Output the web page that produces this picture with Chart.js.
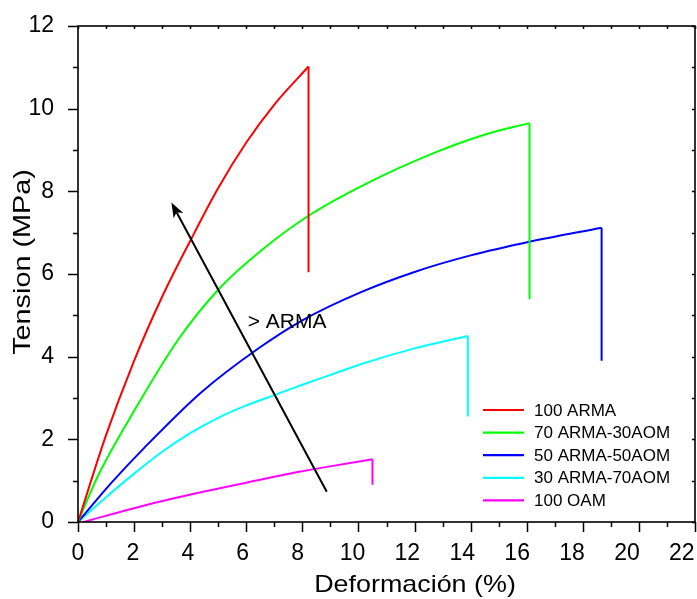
<!DOCTYPE html>
<html>
<head>
<meta charset="utf-8">
<script src="https://cdn.jsdelivr.net/npm/chart.js@4.4.0/dist/chart.umd.min.js"></script>
<style>
  html, body { margin: 0; padding: 0; background: #fff; }
  #chart { display: block; }
</style>
</head>
<body>
<canvas id="chart" width="697" height="599"></canvas>
<script>
// ===== DATA =====
const seriesNames = ['100 ARMA', '70 ARMA-30AOM', '50 ARMA-50AOM', '30 ARMA-70AOM', '100 OAM'];
const seriesColors = ['#ff0000', '#00ff00', '#0000ff', '#00ffff', '#ff00ff'];

// strain (%) / stress (MPa) up to rupture
const strainARMA100 = [0, 1, 2, 3, 4, 5, 6, 7, 8.22];
const stressARMA100 = [0, 2.10, 3.90, 5.45, 6.80, 8.08, 9.18, 10.10, 11.02];

const strainARMA70 = [0, 0.70, 2.02, 3.57, 5.0, 6.5, 8.22, 10.32, 12.7, 14.49, 16.1];
const stressARMA70 = [0, 1.10, 2.71, 4.41, 5.62, 6.55, 7.41, 8.2, 8.93, 9.37, 9.65];

const strainARMA50 = [0, 1.18, 2.37, 4.40, 6.39, 8.0, 10.05, 12.0, 14.0, 16.1, 18.67];
const stressARMA50 = [0, 0.94, 1.80, 3.14, 4.18, 4.88, 5.55, 6.05, 6.45, 6.78, 7.12];

const strainARMA30 = [0, 1, 2, 3, 4, 5, 6, 7, 8, 9, 10, 12, 13.9];
const stressARMA30 = [0, 0.60, 1.17, 1.70, 2.15, 2.52, 2.82, 3.07, 3.32, 3.56, 3.80, 4.20, 4.50];

const strainOAM = [0.2, 2.37, 4.46, 6.0, 7.93, 8.93, 10.5];
const stressOAM = [0, 0.40, 0.73, 0.95, 1.22, 1.34, 1.52];

// stress left after the break (vertical drop at the last strain)
const breakStress = [6.04, 5.39, 3.9, 2.55, 0.90];

const xTickLabels = [0, 2, 4, 6, 8, 10, 12, 14, 16, 18, 20, 22];
const xTickMarks = [0, 1, 2, 3, 4, 5, 6, 7, 8, 9, 10, 11, 12, 13, 14, 15, 16, 17, 18, 19, 20, 21, 22];
const yTickLabels = [0, 2, 4, 6, 8, 10, 12];
const yTickMarks = [0, 1, 2, 3, 4, 5, 6, 7, 8, 9, 10, 11, 12];

// arrow annotation (data coordinates)
const arrowFrom = [8.87, 0.73];
const arrowTo = [3.33, 7.73];
const noteText = '> ARMA';
const notePos = [6.05, 4.83];

const xTitle = 'Deformación (%)';
const yTitle = 'Tension (MPa)';

const FONT = "'Liberation Sans', Arial, sans-serif";

// ===== BUILD DATASETS =====
const strains = [strainARMA100, strainARMA70, strainARMA50, strainARMA30, strainOAM];
const stresses = [stressARMA100, stressARMA70, stressARMA50, stressARMA30, stressOAM];

const datasets = [];
seriesNames.forEach((name, i) => {
    const xs = strains[i], ys = stresses[i];
    const last = xs.length - 1;
    datasets.push({
        label: name,
        data: xs.map((x, k) => ({ x, y: ys[k] })),
        borderColor: seriesColors[i],
        borderWidth: 2,
        pointRadius: 0,
        cubicInterpolationMode: 'monotone',
        showLine: true,
        xAxisID: 'x',
        yAxisID: 'y'
    });
    // vertical drop at rupture
    datasets.push({
        label: name,
        isDrop: true,
        data: [{ x: xs[last], y: ys[last] }, { x: xs[last], y: breakStress[i] }],
        borderColor: seriesColors[i],
        borderWidth: 2,
        pointRadius: 0,
        tension: 0,
        showLine: true,
        xAxisID: 'x',
        yAxisID: 'y'
    });
});

// frame + tick marks (Origin style)
const framePlugin = {
    id: 'frame',
    afterDatasetsDraw(chart) {
        const ctx = chart.ctx;
        const xs = chart.scales.x, ys = chart.scales.y;
        const { left, right, top, bottom } = chart.chartArea;
        ctx.save();
        ctx.strokeStyle = '#000';
        ctx.lineWidth = 1.6;
        ctx.strokeRect(left, top, right - left, bottom - top);
        ctx.lineWidth = 1.5;
        ctx.beginPath();
        xTickMarks.forEach(v => {
            const px = Math.round(xs.getPixelForValue(v)) + 0.5;
            const len = v % 2 === 0 ? 10 : 5;
            ctx.moveTo(px, bottom); ctx.lineTo(px, bottom + len);
            ctx.moveTo(px, top); ctx.lineTo(px, top + 3);
        });
        yTickMarks.forEach(v => {
            const py = Math.round(ys.getPixelForValue(v)) + 0.5;
            const len = v % 2 === 0 ? 10 : 5;
            ctx.moveTo(left, py); ctx.lineTo(left - len, py);
            ctx.moveTo(right, py); ctx.lineTo(right - 3, py);
        });
        ctx.stroke();
        ctx.restore();
    }
};

// arrow + note
const notePlugin = {
    id: 'note',
    afterDatasetsDraw(chart) {
        const ctx = chart.ctx;
        const xs = chart.scales.x, ys = chart.scales.y;
        const x0 = xs.getPixelForValue(arrowFrom[0]), y0 = ys.getPixelForValue(arrowFrom[1]);
        const x1 = xs.getPixelForValue(arrowTo[0]), y1 = ys.getPixelForValue(arrowTo[1]);
        const ang = Math.atan2(y1 - y0, x1 - x0);
        const c = Math.cos(ang), s = Math.sin(ang);
        const headLen = 15, headW = 5.5;
        const bx = x1 - headLen * c, by = y1 - headLen * s;
        ctx.save();
        ctx.strokeStyle = '#000';
        ctx.fillStyle = '#000';
        ctx.lineWidth = 2;
        ctx.beginPath();
        ctx.moveTo(x0, y0);
        ctx.lineTo(bx + 4 * c, by + 4 * s);
        ctx.stroke();
        ctx.beginPath();
        ctx.moveTo(x1, y1);
        ctx.lineTo(bx + headW * s, by - headW * c);
        ctx.lineTo(bx + 4 * c, by + 4 * s);
        ctx.lineTo(bx - headW * s, by + headW * c);
        ctx.closePath();
        ctx.fill();

        ctx.font = '21px ' + FONT;
        ctx.textBaseline = 'middle';
        ctx.textAlign = 'left';
        ctx.fillText(noteText, xs.getPixelForValue(notePos[0]), ys.getPixelForValue(notePos[1]));
        ctx.restore();
    }
};

// axis titles (slightly wide lettering as in the original export)
const titlePlugin = {
    id: 'axisTitles',
    afterDraw(chart) {
        const ctx = chart.ctx;
        ctx.save();
        ctx.fillStyle = '#000';
        ctx.font = '24px ' + FONT;
        ctx.textAlign = 'center';
        ctx.textBaseline = 'middle';

        ctx.save();
        ctx.translate(415, 585);
        ctx.scale(1.12, 1);
        ctx.fillText(xTitle, 0, 0);
        ctx.restore();

        ctx.save();
        ctx.translate(23, 262);
        ctx.rotate(-Math.PI / 2);
        ctx.scale(1.2, 1);
        ctx.fillText(yTitle, 0, 0);
        ctx.restore();

        ctx.restore();
    }
};

// legend drawn inside the plot area
const legendPlugin = {
    id: 'insideLegend',
    afterDraw(chart) {
        const ctx = chart.ctx;
        const items = chart.data.datasets.filter(d => !d.isDrop);
        ctx.save();
        ctx.font = '17px ' + FONT;
        ctx.textBaseline = 'middle';
        ctx.fillStyle = '#000';
        items.forEach((d, i) => {
            const y = 410 + i * 22.6;
            ctx.strokeStyle = d.borderColor;
            ctx.lineWidth = 2.2;
            ctx.beginPath();
            ctx.moveTo(483, y);
            ctx.lineTo(524, y);
            ctx.stroke();
            ctx.fillText(d.label, 534, y + 1);
        });
        ctx.restore();
    }
};

new Chart(document.getElementById('chart'), {
    type: 'scatter',
    data: { datasets },
    options: {
        responsive: false,
        animation: false,
        layout: { padding: { top: 26, right: 2, left: 0, bottom: 0 } },
        plugins: {
            legend: { display: false },
            tooltip: { enabled: false }
        },
        scales: {
            x: { type: 'linear', display: false, min: 0, max: 22 },
            xl: {
                type: 'linear',
                axis: 'x',
                position: 'bottom',
                min: 0,
                max: 22.48,
                grid: { display: false },
                border: { display: false },
                ticks: {
                    color: '#000',
                    font: { family: FONT, size: 23 },
                    padding: 10,
                    maxRotation: 0,
                    autoSkip: false
                },
                afterBuildTicks: s => { s.ticks = xTickLabels.map(v => ({ value: v })); },
                afterFit: s => { s.height = 77; s.paddingLeft = 0; s.paddingRight = 0; }
            },
            y: {
                type: 'linear',
                min: 0,
                max: 12,
                grid: { display: false },
                border: { display: false },
                ticks: {
                    color: '#000',
                    font: { family: FONT, size: 23 },
                    padding: 16
                },
                afterBuildTicks: s => { s.ticks = yTickLabels.map(v => ({ value: v })); },
                afterFit: s => { s.width = 78; s.paddingTop = 0; s.paddingBottom = 0; }
            }
        }
    },
    plugins: [framePlugin, notePlugin, titlePlugin, legendPlugin]
});
</script>
</body>
</html>
